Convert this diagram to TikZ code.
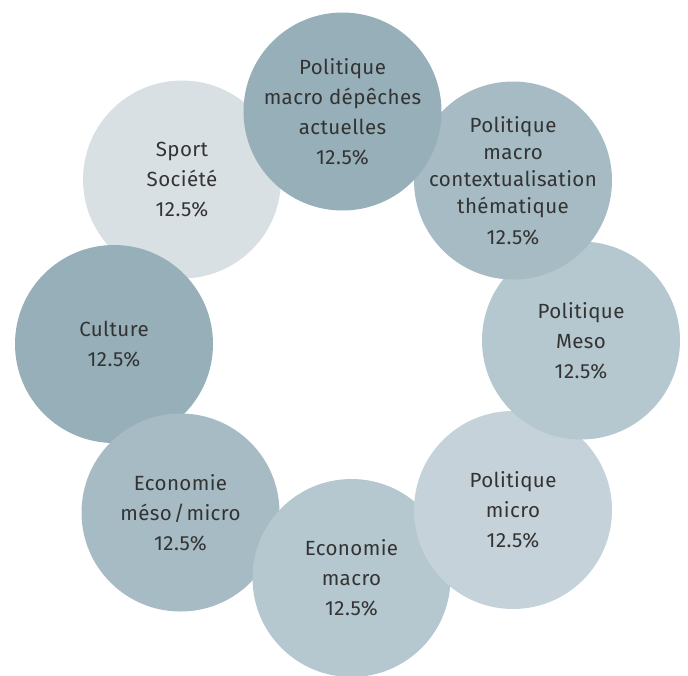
\documentclass[tikz,border=0pt]{standalone}
\usepackage{fontspec}
\setmainfont{Fira Sans}[LetterSpace=2]
\begin{document}
\begin{tikzpicture}[x=1pt,y=-1pt,
  bubble/.style={circle, minimum size=198pt, inner sep=0pt, draw=none},
  caption/.style={align=center, inner sep=0pt, text=txt,
    font=\fontsize{20.5}{30}\selectfont},
  tone1/.style={bubble, fill=c1},
  tone2/.style={bubble, fill=c2},
  tone3/.style={bubble, fill=c3},
  tone4/.style={bubble, fill=c4},
  tone5/.style={bubble, fill=c5}]
\definecolor{c1}{HTML}{96AFB8}
\definecolor{c2}{HTML}{A6BBC4}
\definecolor{c3}{HTML}{B5C7CF}
\definecolor{c4}{HTML}{C5D2D9}
\definecolor{c5}{HTML}{D8E0E4}
\definecolor{txt}{HTML}{333333}
\useasboundingbox (0,0) rectangle (688,675);
% bubbles drawn back to front, each with its caption
\node[tone5] (sport) at (182,179.5) {};
\node[caption] (sport-t) at (sport.center) {Sport\\Société\\12.5\%};
\node[tone1] (culture) at (114,344) {};
\node[caption] (culture-t) at (culture.center) {Culture\\12.5\%};
\node[tone2] (ecomeso) at (180.5,512.5) {};
\node[caption] (ecomeso-t) at (ecomeso.center) {Economie\\méso\kern2pt/\kern2pt micro\\12.5\%};
\node[tone3] (ecomacro) at (351.5,578) {};
\node[caption] (ecomacro-t) at (ecomacro.center) {Economie\\macro\\12.5\%};
\node[tone4] (polmicro) at (513,510) {};
\node[caption] (polmicro-t) at (polmicro.center) {Politique\\micro\\12.5\%};
\node[tone3] (polmeso) at (581,340.5) {};
\node[caption] (polmeso-t) at (polmeso.center) {Politique\\Meso\\12.5\%};
\node[tone2] (polctx) at (513,180.5) {};
\node[caption, font=\fontsize{20.5}{27}\selectfont] (polctx-t) at (polctx.center)
  {Politique\\macro\\contextualisation\\thématique\\[4pt]12.5\%};
\node[tone1] (poldep) at (342.5,111.5) {};
\node[caption] (poldep-t) at (poldep.center) {Politique\\macro dépêches\\actuelles\\12.5\%};
\end{tikzpicture}
\end{document}
